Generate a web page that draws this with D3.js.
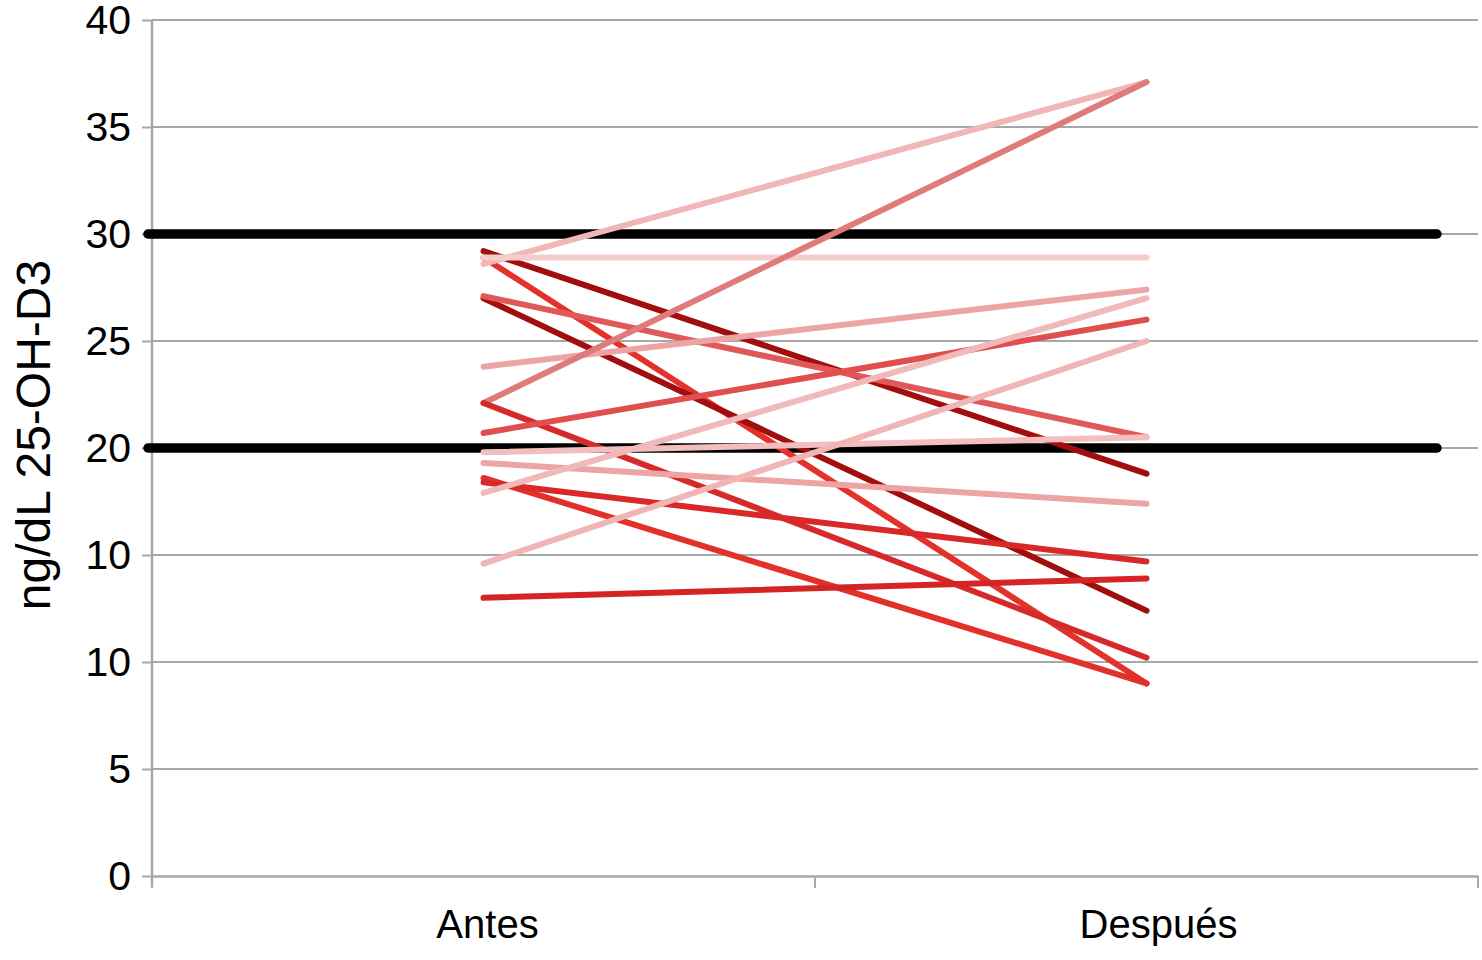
<!DOCTYPE html>
<html>
<head>
<meta charset="utf-8">
<script src="https://cdn.jsdelivr.net/npm/d3@7"></script>
<style>
  body { margin: 0; background: #fff; }
  text { font-family: "Liberation Sans", Arial, sans-serif; }
</style>
</head>
<body>
<div id="chart_div"></div>
<script>
// categories on the x axis
var categories = ["Antes", "Después"];

// one value per patient, before and after
var antes   = [29.2, 28.9, 28.6, 28.9, 27.0, 27.1, 23.8, 22.1, 22.1, 20.7, 19.8, 19.3, 18.6, 18.4, 17.9, 14.6, 13.0];
var despues = [18.8,  9.0, 37.1, 28.9, 12.4, 20.5, 27.4, 37.1, 10.2, 26.0, 20.5, 17.4,  9.0, 14.7, 27.0, 25.0, 13.9];

// reference levels (thick black lines)
var thresholds = [30, 20];

// y ticks and the labels printed next to them
var yTickValues = [0, 5, 10, 15, 20, 25, 30, 35, 40];
var yTickLabels = ["0", "5", "10", "10", "20", "25", "30", "35", "40"];

// colour of each patient line
var lineColors = ["#a20d0d", "#e2322b", "#f1b6b6", "#f5cdcd", "#a20d0d", "#e05858",
                  "#eca5a5", "#e07b7b", "#d62a2a", "#e04e4e", "#f3bebe", "#eca4a4",
                  "#e3312a", "#d82828", "#f1b9b9", "#f1b5b5", "#d42424"];

// set the dimensions and margins of the graph
var margin = {top: 20, right: 4, bottom: 84, left: 152},
    width = 1482 - margin.left - margin.right,
    height = 960 - margin.top - margin.bottom;

var svg = d3.select("#chart_div")
  .append("svg")
    .attr("width", 1482)
    .attr("height", 960)
  .append("g")
    .attr("transform", "translate(" + margin.left + "," + margin.top + ")");

var x = d3.scaleBand()
    .domain(categories)
    .range([0, width])
    .padding(0);

var y = d3.scaleLinear()
    .domain([0, 40])
    .range([height, 0]);

// horizontal grid lines
svg.append("g")
  .selectAll("line")
  .data(yTickValues.slice(1))
  .enter().append("line")
    .attr("x1", 0)
    .attr("x2", width)
    .attr("y1", function(d) { return y(d); })
    .attr("y2", function(d) { return y(d); })
    .attr("stroke", "#a8a8a8")
    .attr("stroke-width", 2);

// Y axis
var yAxis = svg.append("g")
  .call(d3.axisLeft(y)
    .tickValues(yTickValues)
    .tickFormat(function(d, i) { return yTickLabels[i]; })
    .tickSize(10)
    .tickPadding(11)
    .tickSizeOuter(0));
yAxis.select(".domain").attr("stroke", "#a8a8a8").attr("stroke-width", 2.5)
  .attr("d", "M0," + y(40) + "V" + (height + 10));
yAxis.selectAll(".tick line").attr("stroke", "#a8a8a8").attr("stroke-width", 2);
yAxis.selectAll(".tick text").attr("font-size", 41).attr("fill", "#000")
  .attr("font-family", "Liberation Sans, Arial, sans-serif");

// X axis
var xAxis = svg.append("g")
  .attr("transform", "translate(0," + height + ")")
  .call(d3.axisBottom(x).tickSize(0).tickPadding(34).tickSizeOuter(0));
xAxis.select(".domain").attr("stroke", "#a8a8a8").attr("stroke-width", 2.5);
xAxis.selectAll(".tick text").attr("font-size", 40).attr("fill", "#000")
  .attr("dx", function(d, i) { return i === 0 ? 4 : 12; })
  .attr("font-family", "Liberation Sans, Arial, sans-serif");

// band boundary ticks on the x axis
svg.append("g")
  .selectAll("line")
  .data([0, 1, 2])
  .enter().append("line")
    .attr("x1", function(d) { return d * x.bandwidth(); })
    .attr("x2", function(d) { return d * x.bandwidth(); })
    .attr("y1", height)
    .attr("y2", height + 12)
    .attr("stroke", "#a8a8a8")
    .attr("stroke-width", 2);

// reference lines at 20 and 30
svg.append("g")
  .selectAll("line")
  .data(thresholds)
  .enter().append("line")
    .attr("x1", -4)
    .attr("x2", width - 41)
    .attr("y1", function(d) { return y(d); })
    .attr("y2", function(d) { return y(d); })
    .attr("stroke", "#000")
    .attr("stroke-width", 9.5)
    .attr("stroke-linecap", "round");

// one line per patient
var cx = function(c) { return x(c) + x.bandwidth() / 2; };
var pairs = antes.map(function(a, i) { return {a: a, b: despues[i], color: lineColors[i]}; });

svg.append("g")
  .selectAll("line")
  .data(pairs)
  .enter().append("line")
    .attr("x1", cx("Antes"))
    .attr("x2", cx("Después"))
    .attr("y1", function(d) { return y(d.a); })
    .attr("y2", function(d) { return y(d.b); })
    .attr("stroke", function(d) { return d.color; })
    .attr("stroke-width", 6)
    .attr("stroke-linecap", "round");

// Y axis title
svg.append("text")
  .attr("transform", "translate(" + (-102) + "," + (height / 2 - 13) + ") rotate(-90)")
  .attr("text-anchor", "middle")
  .attr("font-size", 48)
  .attr("fill", "#000")
  .text("ng/dL 25-OH-D3");
</script>
</body>
</html>
